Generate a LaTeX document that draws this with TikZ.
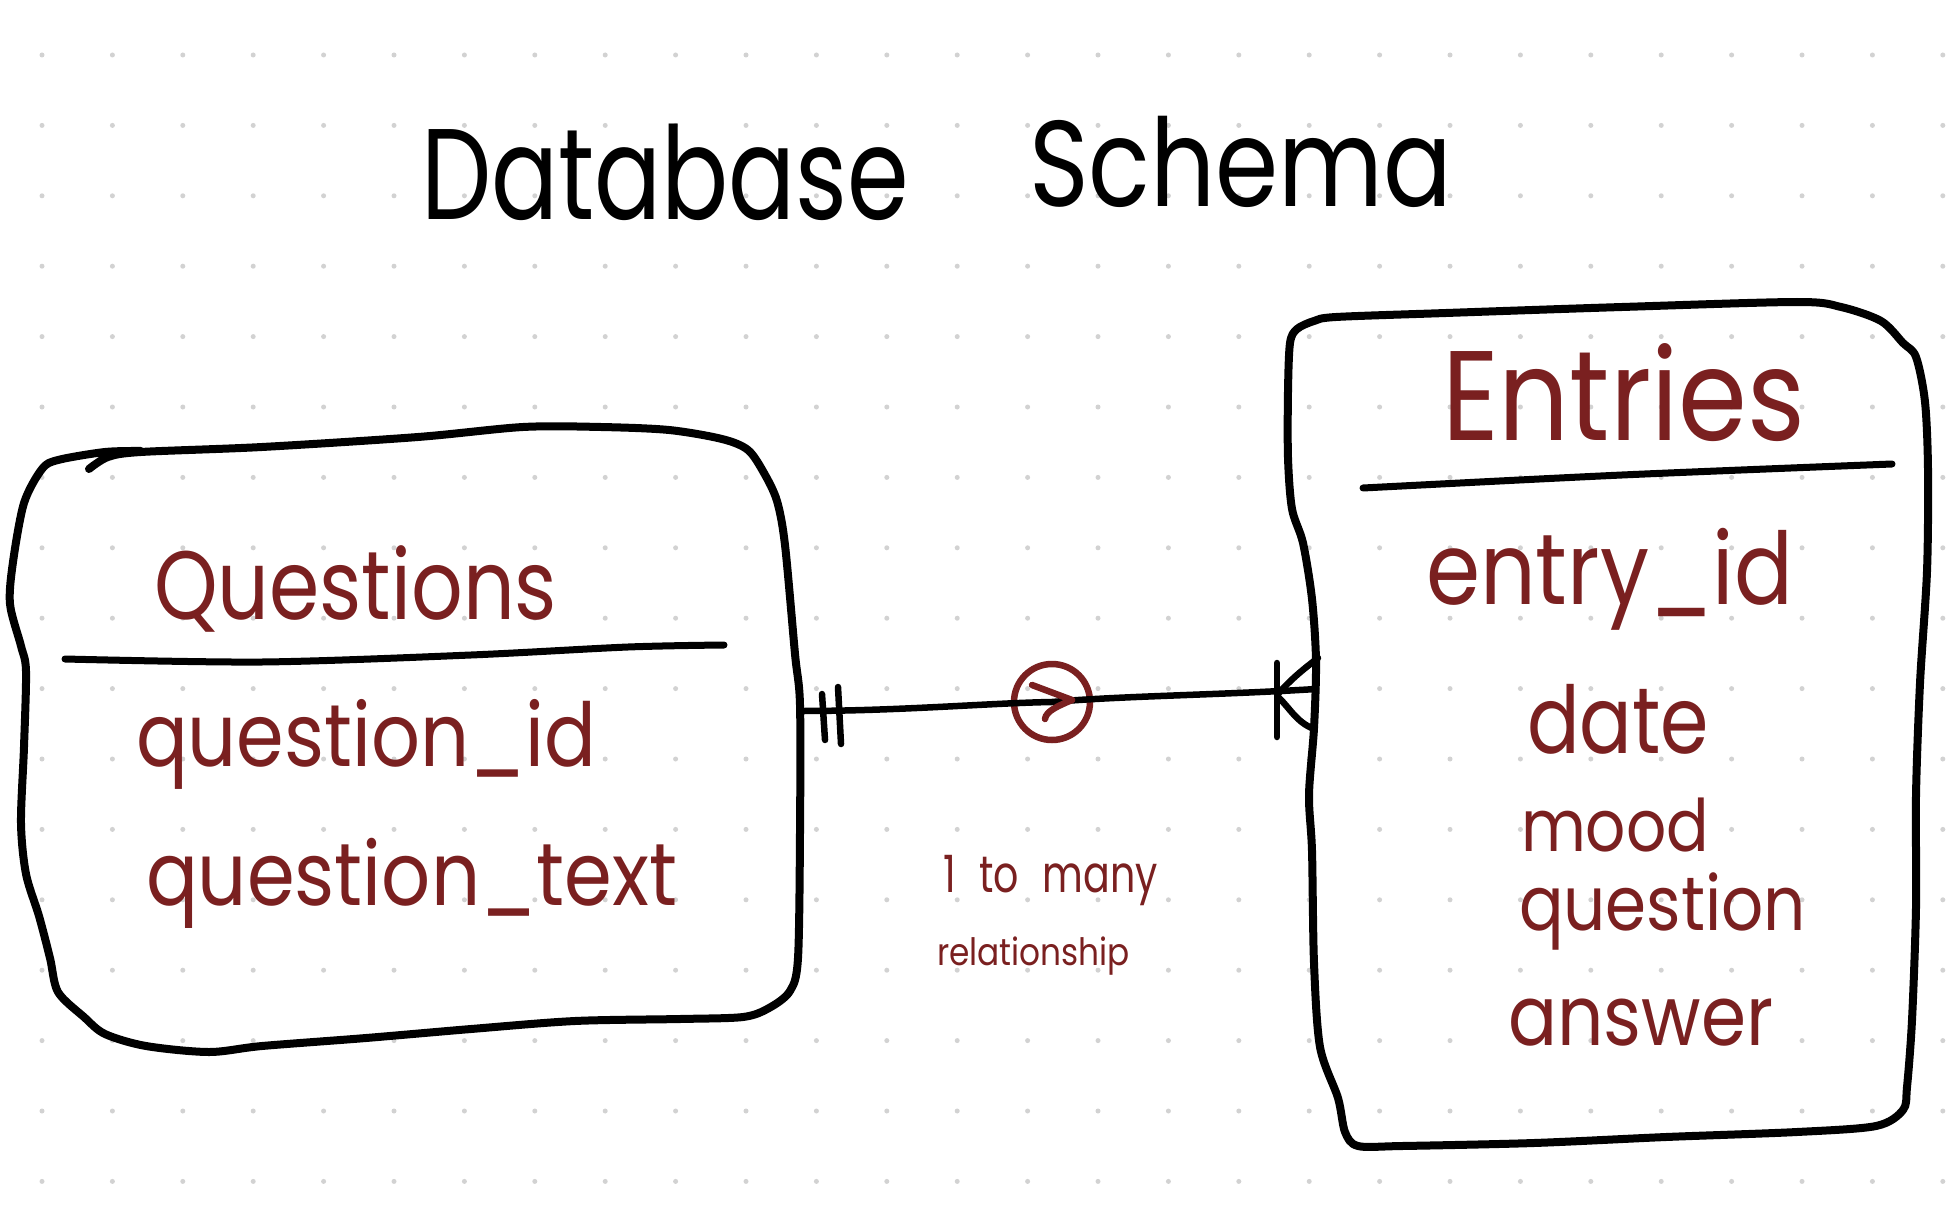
\documentclass[tikz,border=0pt]{standalone}
\usepackage{graphicx}
\usepackage{fontspec}
\setmainfont{Poppins}
\definecolor{ink}{RGB}{122,32,32}
\definecolor{dotgray}{RGB}{210,210,210}
% text scaled to a given width, with an extra vertical stretch
\newcommand\fitw[3]{\resizebox{#1pt}{!}{\scalebox{1}[#2]{#3}}}
\begin{document}
\begin{tikzpicture}[x=1pt,y=-1pt,line cap=round,line join=round,
  pen/.style={draw=black,line width=8pt},
  rule/.style={draw=black,line width=7pt},
  conn/.style={draw=black,line width=6.5pt},
  redpen/.style={draw=ink,line width=6.5pt},
  word/.style={anchor=base west,inner sep=0pt,outer sep=0pt,text=ink},
  headline/.style={anchor=base west,inner sep=0pt,outer sep=0pt,text=black}]

% canvas and dotted paper
\fill[white] (0,0) rectangle (1958,1222);
\useasboundingbox (0,0) rectangle (1958,1222);
\foreach \i in {0,...,27}
  \foreach \j in {0,...,16}
    \fill[dotgray] ({42+70.4*\i},{55+70.4*\j}) circle (2.5pt);

% title
\node[headline] (tDb) at (421,220) {\fitw{488}{1.3}{Database}};
\node[headline] (tSc) at (1029,207) {\fitw{423}{1.2}{Schema}};

% Questions table outline
\draw[pen] plot[smooth,tension=0.5] coordinates {
  (89,469) (108,457) (141,452) (262,447) (418,437) (523,427) (601,427)
  (669,430) (722,439) (748,450) (764,473) (777,501) (785,545) (795,654)
  (800,705) (800,832) (798,958) (790,991) (769,1008) (743,1017) (680,1019)
  (575,1021) (471,1029) (366,1038) (262,1046) (209,1052) (146,1046)
  (105,1034) (84,1017) (58,992) (50,958) (39,916) (26,874) (21,823)
  (24,747) (26,671) (21,646) (10,604) (13,562) (24,503) (42,469) (58,460)
  (105,452) (141,451)};
\draw[rule] plot[smooth] coordinates {(65,659) (262,662) (471,655) (628,647) (724,645)};

\node[word] (qTitle) at (154,619) {\fitw{403}{1.2}{Questions}};
\node[word] (qId) at (136,766) {\fitw{460}{1.15}{question\_id}};
\node[word] (qText) at (146,905) {\fitw{531}{1.15}{question\_text}};

% Entries table outline
\draw[pen] plot[smooth cycle,tension=0.5] coordinates {
  (1336,317) (1446,313) (1622,307) (1797,302) (1841,307) (1881,321)
  (1903,343) (1916,357) (1925,402) (1928,470) (1927,571) (1920,683)
  (1916,795) (1916,907) (1912,1020) (1907,1087) (1903,1110) (1876,1126)
  (1797,1132) (1666,1137) (1534,1143) (1402,1146) (1358,1146) (1345,1132)
  (1338,1098) (1320,1047) (1314,963) (1312,851) (1309,795) (1314,728)
  (1316,661) (1312,599) (1303,543) (1292,509) (1288,458) (1288,391)
  (1290,343) (1297,329) (1314,321)};
\draw[rule] plot[smooth] coordinates {(1363,488) (1622,475) (1892,464)};

\node[word] (eTitle) at (1442,440) {\fitw{363}{1.15}{Entries}};
\node[word] (eId) at (1426,604) {\fitw{367}{1.15}{entry\_id}};
\node[word] (eDate) at (1527,753) {\fitw{182}{1.2}{date}};
\node[word] (eMood) at (1521,851) {\fitw{188}{1.15}{mood}};
\node[word] (eQuest) at (1519,930) {\fitw{287}{1.15}{question}};
\node[word] (eAns) at (1508,1045) {\fitw{265}{1.15}{answer}};

% relationship: one (Questions) to many (Entries)
\coordinate (qR) at (800,711);
\coordinate (eL) at (1316,689);
\node[circle,redpen,minimum size=76pt,inner sep=0pt] (card) at (1052,702) {};
\draw[conn] (qR) .. controls (900,711) and (990,703) .. (card.center)
  .. controls (1120,696) and (1220,695) .. (eL);
% mandatory-one bars
\draw[conn] (822,694) -- (825,740);
\draw[conn] (838,687) -- (841,744);
% crow's foot
\draw[conn] (1277,663) -- (1277,737);
\draw[conn] (1278,694) .. controls (1292,678) and (1305,668) .. (1318,658);
\draw[conn] (1278,697) .. controls (1290,708) and (1296,722) .. (1314,729);
% direction mark inside the circle
\draw[redpen] (1032,685) -- (1072,700) .. controls (1058,706) and (1046,711) .. (1045,719);

\node[word] (relA) at (943,892) {\fitw{215}{1.3}{1\hspace{0.6em}to\hspace{0.6em}many}};
\node[word] (relB) at (937,965) {\fitw{193}{1.15}{relationship}};
\end{tikzpicture}
\end{document}
